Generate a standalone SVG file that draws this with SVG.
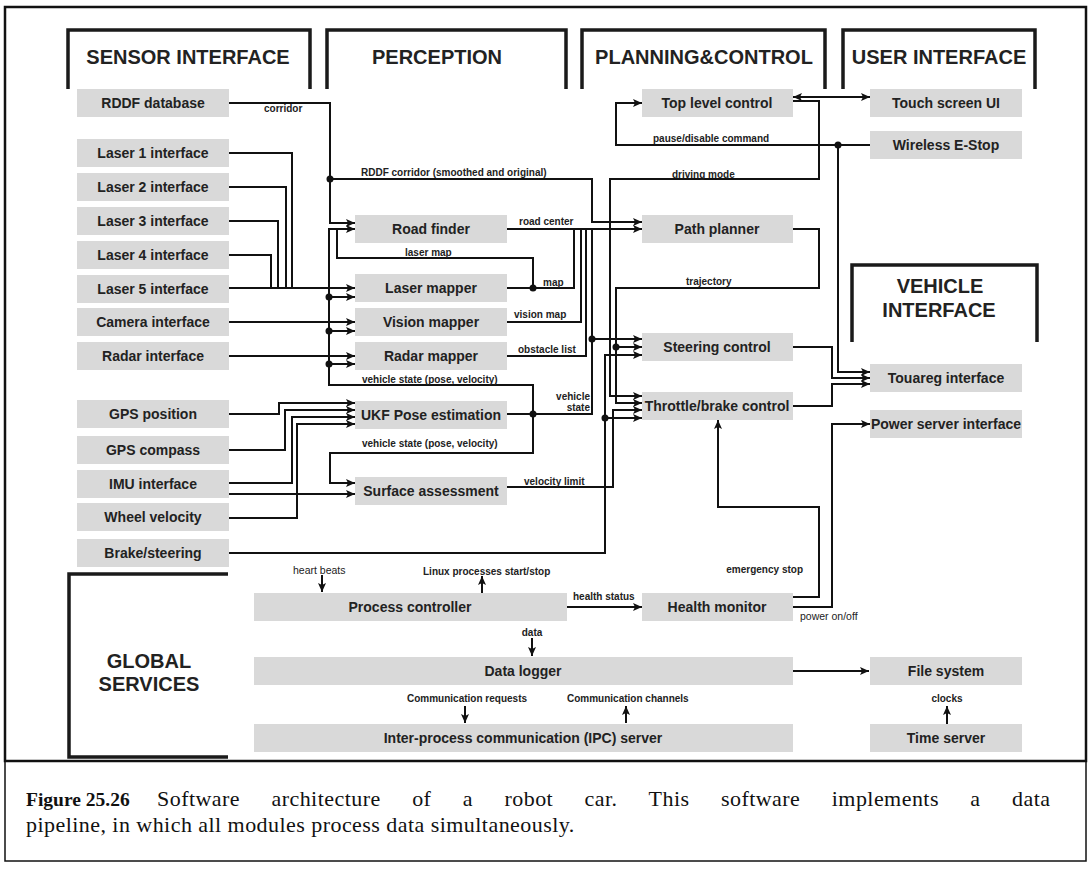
<svg xmlns="http://www.w3.org/2000/svg" width="1090" height="879" viewBox="0 0 1090 879">
<defs>
<marker id="ah" viewBox="0 0 9 8" refX="9" refY="4" markerWidth="9" markerHeight="8" markerUnits="userSpaceOnUse" orient="auto-start-reverse">
<path d="M0,0 L9,4 L0,8 L2,4 z" fill="#111"/>
</marker>
<style>
.box{fill:#d9d9d9;}
.bl{font-family:"Liberation Sans",Arial,sans-serif;font-weight:bold;font-size:14px;fill:#222;text-anchor:middle;}
.hd{font-family:"Liberation Sans",Arial,sans-serif;font-weight:bold;font-size:20px;fill:#222;text-anchor:middle;}
.sl{font-family:"Liberation Sans",Arial,sans-serif;font-weight:bold;font-size:10px;fill:#222;}
.sn{font-family:"Liberation Sans",Arial,sans-serif;font-size:10.5px;fill:#222;}
.br{fill:none;stroke:#1a1a1a;stroke-width:3.5;}
.c{fill:none;stroke:#111;stroke-width:2;}
.a{marker-end:url(#ah);}
.d{fill:#111;}
.cap{font-family:"Liberation Serif","Times New Roman",serif;font-size:22px;fill:#111;letter-spacing:0.45px;}
.capb{font-family:"Liberation Serif","Times New Roman",serif;font-size:19.5px;font-weight:bold;fill:#111;}
</style>
</defs>
<rect width="1090" height="879" fill="#fff"/>
<!-- frame -->
<rect x="5" y="7" width="1081" height="754" fill="none" stroke="#111" stroke-width="2.5"/>
<rect x="5" y="761" width="1081" height="100" fill="none" stroke="#111" stroke-width="1.5"/>
<!-- section brackets -->
<g id="sec-sensor"><path class="br" d="M68,89 V30 H310 V89"/><text class="hd" x="188" y="64">SENSOR INTERFACE</text></g>
<g id="sec-perception"><path class="br" d="M327,89 V30 H566 V89"/><text class="hd" x="437" y="64">PERCEPTION</text></g>
<g id="sec-planning"><path class="br" d="M582,89 V30 H825 V89"/><text class="hd" x="704" y="64">PLANNING&amp;CONTROL</text></g>
<g id="sec-user"><path class="br" d="M843,89 V30 H1035 V89"/><text class="hd" x="939" y="64">USER INTERFACE</text></g>
<g id="sec-vehicle"><path class="br" d="M852,342 V265 H1037 V342"/><text class="hd" x="940" y="293">VEHICLE</text><text class="hd" x="939" y="317">INTERFACE</text></g>
<g id="sec-global"><path class="br" d="M228,574 H69 V757 H228"/><text class="hd" x="149" y="668">GLOBAL</text><text class="hd" x="149" y="691">SERVICES</text></g>
<!-- connectors -->
<g id="connectors">
<path class="c a" d="M229,103 H330 V223 H355"/>
<path class="c a" d="M330,179 H592 V222 H642"/>
<path class="c" d="M229,153 H292 V288"/>
<path class="c" d="M229,187 H286 V288"/>
<path class="c" d="M229,221 H278 V288"/>
<path class="c" d="M229,255 H271 V288"/>
<path class="c a" d="M229,288 H355"/>
<path class="c a" d="M229,322 H355"/>
<path class="c a" d="M229,356 H355"/>
<path class="c a" d="M229,414 H279 V403 H355"/>
<path class="c a" d="M229,450 H285 V410 H355"/>
<path class="c a" d="M229,483 H292 V417 H355"/>
<path class="c a" d="M229,518 H297 V424 H355"/>
<path class="c a" d="M229,494 H355"/>
<path class="c" d="M507,414 H592 V229"/>
<path class="c a" d="M533,414 V385 H329 V229 H355"/>
<path class="c a" d="M329,297 H355"/>
<path class="c a" d="M329,331 H355"/>
<path class="c a" d="M329,364 H355"/>
<path class="c a" d="M533,414 V453 H330 V483 H355"/>
<path class="c a" d="M507,229 H642"/>
<path class="c" d="M507,288 H574 V229"/>
<path class="c" d="M533,288 V258 H337 V229"/>
<path class="c" d="M507,322 H581 V229"/>
<path class="c" d="M507,356 H586 V229"/>
<path class="c a" d="M592,339 H642"/>
<path class="c" d="M793,97 H870" marker-start="url(#ah)" marker-end="url(#ah)"/>
<path class="c a" d="M793,101 H819 V179 H610 V396 H642"/>
<path class="c a" d="M793,229 H819 V288 H616 V403 H642"/>
<path class="c a" d="M616,347 H642"/>
<path class="c a" d="M870,145 H616 V103 H642"/>
<path class="c a" d="M838,145 V372 H870"/>
<path class="c a" d="M793,347 H832 V378 H870"/>
<path class="c a" d="M793,406 H832 V384 H870"/>
<path class="c a" d="M229,553 H605 V355 H642"/>
<path class="c a" d="M605,418 H642"/>
<path class="c a" d="M507,487 H613 V410 H642"/>
<path class="c a" d="M793,597 H819 V507 H718 V420"/>
<path class="c a" d="M793,607 H832 V424 H870"/>
<path class="c a" d="M567,607 H642"/>
<path class="c a" d="M322,575 V592"/>
<path class="c a" d="M482,593 V576"/>
<path class="c a" d="M532,638 V656"/>
<path class="c a" d="M465,706 V723"/>
<path class="c a" d="M626,723 V706"/>
<path class="c a" d="M793,671 H869"/>
<path class="c a" d="M947,724 V706"/>
<circle class="d" cx="330" cy="179" r="3.5"/>
<circle class="d" cx="329" cy="297" r="3.5"/>
<circle class="d" cx="329" cy="331" r="3.5"/>
<circle class="d" cx="329" cy="364" r="3.5"/>
<circle class="d" cx="533" cy="414" r="3.5"/>
<circle class="d" cx="533" cy="288" r="3.5"/>
<circle class="d" cx="592" cy="339" r="3.5"/>
<circle class="d" cx="616" cy="347" r="3.5"/>
<circle class="d" cx="605" cy="418" r="3.5"/>
<circle class="d" cx="838" cy="145" r="3.5"/>
<text class="sl" x="264" y="112">corridor</text>
<text class="sl" x="361" y="176">RDDF corridor (smoothed and original)</text>
<text class="sl" x="519" y="225">road center</text>
<text class="sl" x="405" y="256">laser map</text>
<text class="sl" x="543" y="286">map</text>
<text class="sl" x="514" y="318">vision map</text>
<text class="sl" x="518" y="353">obstacle list</text>
<text class="sl" x="362" y="383">vehicle state (pose, velocity)</text>
<text class="sl" x="590" y="400" text-anchor="end">vehicle</text>
<text class="sl" x="590" y="411" text-anchor="end">state</text>
<text class="sl" x="362" y="447">vehicle state (pose, velocity)</text>
<text class="sl" x="524" y="485">velocity limit</text>
<text class="sl" x="672" y="178">driving mode</text>
<text class="sl" x="653" y="142">pause/disable command</text>
<text class="sl" x="686" y="285">trajectory</text>
<text class="sn" x="293" y="574">heart beats</text>
<text class="sl" x="423" y="575">Linux processes start/stop</text>
<text class="sl" x="573" y="600">health status</text>
<text class="sl" x="532" y="636" text-anchor="middle">data</text>
<text class="sl" x="407" y="702">Communication requests</text>
<text class="sl" x="567" y="702">Communication channels</text>
<text class="sl" x="947" y="702" text-anchor="middle">clocks</text>
<text class="sl" x="803" y="573" text-anchor="end">emergency stop</text>
<text class="sn" x="800" y="620">power on/off</text>
</g>
<!-- sensor nodes -->
<g id="rddf"><rect class="box" x="77" y="89" width="152" height="28"/><text class="bl" x="153" y="108">RDDF database</text></g>
<g id="laser1"><rect class="box" x="77" y="139" width="152" height="28"/><text class="bl" x="153" y="158">Laser 1 interface</text></g>
<g id="laser2"><rect class="box" x="77" y="173" width="152" height="28"/><text class="bl" x="153" y="192">Laser 2 interface</text></g>
<g id="laser3"><rect class="box" x="77" y="207" width="152" height="28"/><text class="bl" x="153" y="226">Laser 3 interface</text></g>
<g id="laser4"><rect class="box" x="77" y="241" width="152" height="28"/><text class="bl" x="153" y="260">Laser 4 interface</text></g>
<g id="laser5"><rect class="box" x="77" y="275" width="152" height="28"/><text class="bl" x="153" y="294">Laser 5 interface</text></g>
<g id="camera"><rect class="box" x="77" y="308" width="152" height="28"/><text class="bl" x="153" y="327">Camera interface</text></g>
<g id="radar"><rect class="box" x="77" y="342" width="152" height="28"/><text class="bl" x="153" y="361">Radar interface</text></g>
<g id="gpspos"><rect class="box" x="77" y="400" width="152" height="28"/><text class="bl" x="153" y="419">GPS position</text></g>
<g id="gpscomp"><rect class="box" x="77" y="436" width="152" height="28"/><text class="bl" x="153" y="455">GPS compass</text></g>
<g id="imu"><rect class="box" x="77" y="470" width="152" height="28"/><text class="bl" x="153" y="489">IMU interface</text></g>
<g id="wheel"><rect class="box" x="77" y="503" width="152" height="28"/><text class="bl" x="153" y="522">Wheel velocity</text></g>
<g id="brake"><rect class="box" x="77" y="539" width="152" height="28"/><text class="bl" x="153" y="558">Brake/steering</text></g>
<!-- perception nodes -->
<g id="roadfinder"><rect class="box" x="355" y="215" width="152" height="28"/><text class="bl" x="431" y="234">Road finder</text></g>
<g id="lasermapper"><rect class="box" x="355" y="274" width="152" height="28"/><text class="bl" x="431" y="293">Laser mapper</text></g>
<g id="visionmapper"><rect class="box" x="355" y="308" width="152" height="28"/><text class="bl" x="431" y="327">Vision mapper</text></g>
<g id="radarmapper"><rect class="box" x="355" y="342" width="152" height="28"/><text class="bl" x="431" y="361">Radar mapper</text></g>
<g id="ukf"><rect class="box" x="355" y="401" width="152" height="28"/><text class="bl" x="431" y="420">UKF Pose estimation</text></g>
<g id="surface"><rect class="box" x="355" y="477" width="152" height="28"/><text class="bl" x="431" y="496">Surface assessment</text></g>
<!-- planning nodes -->
<g id="toplevel"><rect class="box" x="642" y="89" width="151" height="28"/><text class="bl" x="717" y="108">Top level control</text></g>
<g id="pathplanner"><rect class="box" x="642" y="215" width="151" height="28"/><text class="bl" x="717" y="234">Path planner</text></g>
<g id="steering"><rect class="box" x="642" y="333" width="151" height="28"/><text class="bl" x="717" y="352">Steering control</text></g>
<g id="throttle"><rect class="box" x="642" y="392" width="151" height="28"/><text class="bl" x="717" y="411">Throttle/brake control</text></g>
<!-- user / vehicle nodes -->
<g id="touch"><rect class="box" x="870" y="89" width="152" height="28"/><text class="bl" x="946" y="108">Touch screen UI</text></g>
<g id="estop"><rect class="box" x="870" y="131" width="152" height="28"/><text class="bl" x="946" y="150">Wireless E-Stop</text></g>
<g id="touareg"><rect class="box" x="870" y="364" width="152" height="28"/><text class="bl" x="946" y="383">Touareg interface</text></g>
<g id="power"><rect class="box" x="870" y="410" width="152" height="28"/><text class="bl" x="946" y="429">Power server interface</text></g>
<!-- global nodes -->
<g id="process"><rect class="box" x="254" y="593" width="313" height="28"/><text class="bl" x="410" y="612">Process controller</text></g>
<g id="health"><rect class="box" x="642" y="593" width="151" height="28"/><text class="bl" x="717" y="612">Health monitor</text></g>
<g id="datalogger"><rect class="box" x="254" y="657" width="539" height="28"/><text class="bl" x="523" y="676">Data logger</text></g>
<g id="filesystem"><rect class="box" x="870" y="657" width="152" height="28"/><text class="bl" x="946" y="676">File system</text></g>
<g id="ipc"><rect class="box" x="254" y="724" width="539" height="28"/><text class="bl" x="523" y="743">Inter-process communication (IPC) server</text></g>
<g id="timeserver"><rect class="box" x="870" y="724" width="152" height="28"/><text class="bl" x="946" y="743">Time server</text></g>
<!-- caption -->
<text class="capb" x="26" y="806">Figure 25.26</text>
<text class="cap" x="157" y="806" word-spacing="25.5">Software architecture of a robot car.  This software implements a data</text>
<text class="cap" x="26" y="832">pipeline, in which all modules process data simultaneously.</text>
</svg>
